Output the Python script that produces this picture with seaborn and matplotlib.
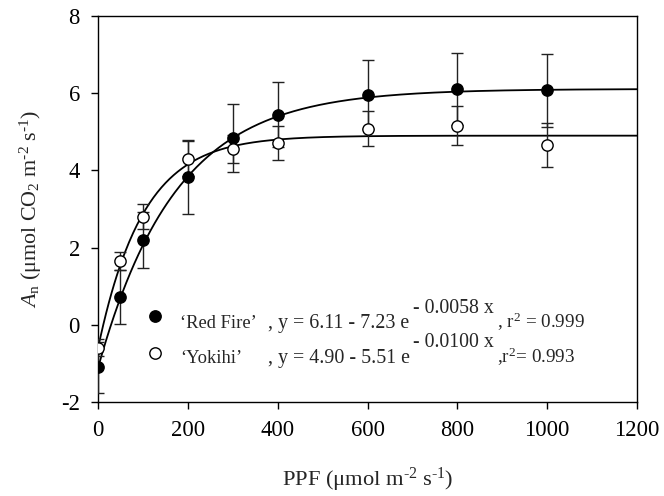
import numpy as np
import pandas as pd
import matplotlib
matplotlib.use("Agg")
import matplotlib.pyplot as plt
import seaborn as sns
from matplotlib.lines import Line2D

# ---------------- data ----------------
ppf = [0, 50, 100, 200, 300, 400, 600, 800, 1000]
red_mean = [-1.10, 0.72, 2.20, 3.83, 4.84, 5.44, 5.96, 6.11, 6.07]
red_sd = [0.66, 0.70, 0.72, 0.97, 0.89, 0.84, 0.89, 0.94, 0.95]
yok_mean = [-0.59, 1.66, 2.80, 4.30, 4.55, 4.71, 5.08, 5.16, 4.66]
yok_sd = [0.22, 0.23, 0.32, 0.45, 0.36, 0.43, 0.45, 0.50, 0.57]

cultivars = ["\u2018Red Fire\u2019", "\u2018Yokihi\u2019"]
fit_a = [6.11, 4.90]
fit_b = [7.23, 5.51]
fit_k = [0.0058, 0.0100]
fit_r2 = ["0.999", "0.993"]

x_ticks = [0, 200, 400, 600, 800, 1000, 1200]
y_ticks = [-2, 0, 2, 4, 6, 8]

# ---------------- style ----------------
sns.set_theme(style="ticks")
plt.rcParams["font.family"] = ["Liberation Serif", "DejaVu Serif"]
plt.rcParams["mathtext.fontset"] = "custom"
plt.rcParams["mathtext.rm"] = "Liberation Serif"
plt.rcParams["mathtext.it"] = "Liberation Serif:italic"
plt.rcParams["axes.unicode_minus"] = False

W, H = 664, 496
fig = plt.figure(figsize=(W / 100, H / 100), dpi=100)
ax = fig.add_axes([98 / W, 1 - 402 / H, (637 - 98) / W, (402 - 16) / H])

df = pd.DataFrame({
    "PPF": ppf * 2,
    "An": red_mean + yok_mean,
    "sd": red_sd + yok_sd,
    "cv": [cultivars[0]] * len(ppf) + [cultivars[1]] * len(ppf),
})

# fitted curves
xs = np.linspace(0, 1200, 400)
fit_rows = []
for c, a, b, k in zip(cultivars, fit_a, fit_b, fit_k):
    for xv in xs:
        fit_rows.append({"PPF": xv, "An": a - b * np.exp(-k * xv), "cv": c})
fit_df = pd.DataFrame(fit_rows)
sns.lineplot(data=fit_df, x="PPF", y="An", units="cv", estimator=None,
             color="black", lw=1.3, ax=ax, legend=False, zorder=2)

# error bars
for c in cultivars:
    d = df[df.cv == c]
    ax.errorbar(d.PPF, d.An, yerr=d.sd, fmt="none", ecolor="#222222",
                elinewidth=1.0, capsize=4.0, capthick=1.0, zorder=3)

# points
face = {cultivars[0]: "black", cultivars[1]: "white"}
for c in cultivars:
    d = df[df.cv == c]
    sns.scatterplot(data=d, x="PPF", y="An", color=face[c], edgecolor="black",
                    linewidth=1.0, s=66, ax=ax, zorder=4, legend=False)

ax.set_xlim(0, 1200)
ax.set_ylim(-2, 8)
ax.set_xticks(x_ticks)
ax.set_yticks(y_ticks)
ax.tick_params(axis="both", direction="out", length=5, width=1, colors="black",
               labelsize=16.3, pad=8, top=False, right=False)
for s in ax.spines.values():
    s.set_visible(True)
    s.set_color("black")
    s.set_linewidth(1.0)

ax.set_xlabel(r"PPF ($\mathrm{\mu}$mol m$^{\text{-2}}$ s$^{\text{-1}}$)",
              fontsize=16.2, labelpad=18)
ax.set_ylabel(r"$\mathit{A}_{\mathrm{n}}$ ($\mathrm{\mu}$mol CO$_{\mathrm{2}}$ m$^{\text{-2}}$ s$^{\text{-1}}$)",
              fontsize=15.8, labelpad=12)

# legend markers
handles = [
    Line2D([], [], marker="o", ls="none", markersize=8.2,
           markerfacecolor=face[c], markeredgecolor="black", markeredgewidth=1.0)
    for c in cultivars
]
leg = ax.legend(handles, [" ", " "], loc="upper left", frameon=False,
                bbox_to_anchor=((147 - 98) / (637 - 98), (402 - 309) / (402 - 16)),
                fontsize=14.4, handlelength=0.8, handletextpad=0.5,
                labelspacing=0.9, borderaxespad=0, borderpad=0)

# cultivar names and equations
def px(x, y):
    return x / W, 1 - y / H

base_y = [328, 363]
sup_y = [313, 347]
r2_prefix = [", r$^{\\mathrm{2}}$ = ", ",r$^{\\mathrm{2}}$= "]
for i in range(2):
    fig.text(*px(180, base_y[i]), cultivars[i],
             fontsize=13.3, va="baseline", ha="left")
    fig.text(*px(268, base_y[i]), f", y = {fit_a[i]:.2f} - {fit_b[i]:.2f} e",
             fontsize=14.4, va="baseline", ha="left")
    fig.text(*px(413, sup_y[i]), f"- {fit_k[i]:.4f} x",
             fontsize=14.3, va="baseline", ha="left")
    fig.text(*px(497, base_y[i]), r2_prefix[i] + fit_r2[i],
             fontsize=13.8, va="baseline", ha="left")

fig.savefig("out.png", dpi=100)
